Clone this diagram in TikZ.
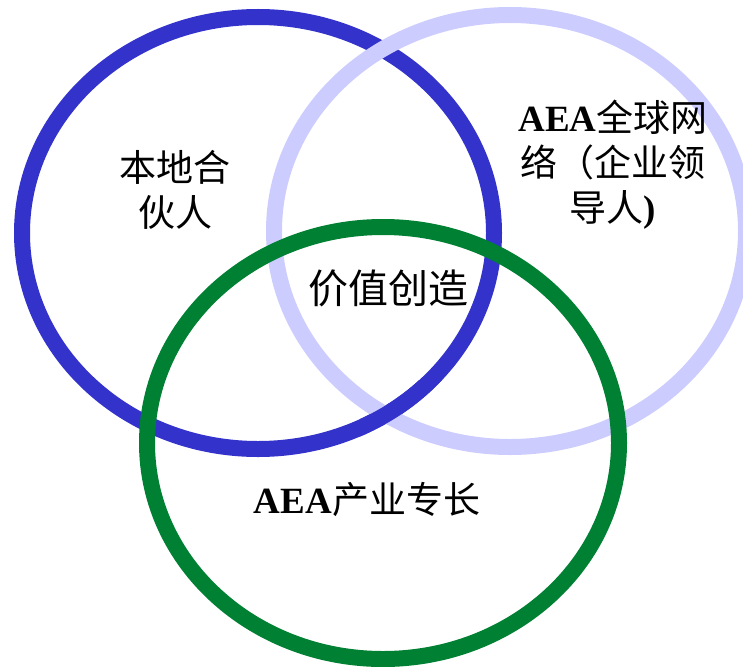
\documentclass[tikz,border=0pt]{standalone}
\usepackage{fontspec}
\setmainfont{Liberation Serif}
\newfontfamily\cjk{Noto Sans CJK SC}
\definecolor{vblue}{RGB}{51,51,204}
\definecolor{vlav}{RGB}{204,204,255}
\definecolor{vgreen}{RGB}{0,128,51}
\begin{document}
\begin{tikzpicture}[x=1pt,y=-1pt,
  ring/.style={line width=16pt},
  lbl/.style={align=center, inner sep=0pt, font=\fontsize{37}{45}\selectfont},
  big/.style={align=center, inner sep=0pt, font=\fontsize{40}{48}\selectfont\cjk}]
\useasboundingbox (0,0) rectangle (743,666);
\draw[ring, vblue] (258,233) ellipse [x radius=236, y radius=216];
\draw[ring, vlav] (510,231) ellipse [x radius=236, y radius=216];
\begin{scope}
  \clip (360,380) rectangle (450,470);
  \draw[ring, vblue] (258,233) ellipse [x radius=236, y radius=216];
\end{scope}
\draw[ring, vgreen] (383,443) ellipse [x radius=236, y radius=216];
\node[lbl] (local) at (175,190) {{\cjk 本地合}\\{\cjk 伙人}};
\node[lbl] (network) at (613,165) {{\bfseries AEA}{\cjk 全球网}\\{\cjk 络（企业领}\\{\cjk 导人}{\bfseries )}};
\node[big] (value) at (388,288) {价值创造};
\node[lbl] (industry) at (367,500) {{\bfseries AEA}{\cjk 产业专长}};
\end{tikzpicture}
\end{document}
